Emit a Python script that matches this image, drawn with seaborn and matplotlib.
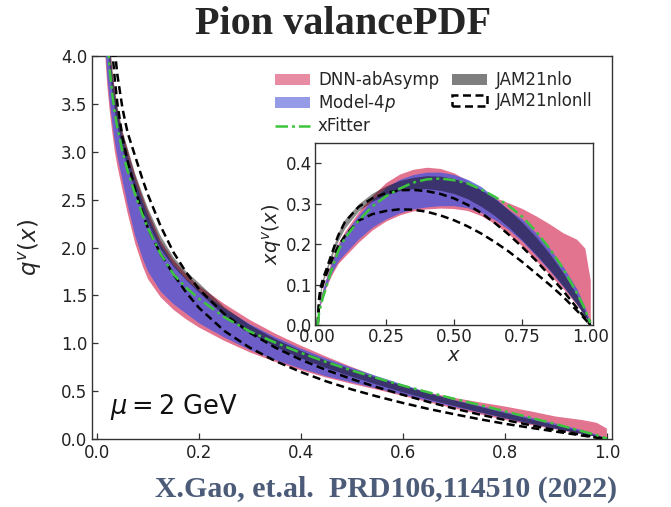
import numpy as np
import matplotlib
matplotlib.use("Agg")
import matplotlib.pyplot as plt
import seaborn as sns
from matplotlib.patches import Patch
from matplotlib.lines import Line2D

# ---------------- data: main panel q^v(x) ----------------
xm = [0.012, 0.015, 0.02, 0.025, 0.03, 0.035, 0.04, 0.05, 0.06, 0.075, 0.09, 0.1,
      0.125, 0.15, 0.175, 0.2, 0.25, 0.3, 0.35, 0.4, 0.45, 0.5, 0.55, 0.6, 0.65,
      0.7, 0.75, 0.8, 0.85, 0.9, 0.95, 0.98, 1.0]
dnn_lo_q = [4.6, 4.1, 3.7, 3.42, 3.2, 3.0, 2.85, 2.6, 2.36, 2.04, 1.8, 1.67, 1.48, 1.35,
            1.25, 1.165, 1.025, 0.905, 0.805, 0.718, 0.642, 0.576, 0.515, 0.45, 0.385,
            0.32, 0.26, 0.2, 0.147, 0.1, 0.053, 0.025, 0.0]
dnn_hi_q = [6.0, 5.3, 4.6, 4.15, 3.85, 3.63, 3.45, 3.2, 3.02, 2.75, 2.52, 2.38, 2.07, 1.87,
            1.72, 1.6, 1.41, 1.243, 1.1, 0.975, 0.86, 0.752, 0.649, 0.558, 0.485,
            0.431, 0.384, 0.34, 0.29, 0.235, 0.2, 0.17, 0.11]
model_lo_q = [4.7, 4.2, 3.8, 3.52, 3.3, 3.1, 2.95, 2.7, 2.45, 2.12, 1.88, 1.75, 1.54, 1.41,
              1.31, 1.21, 1.06, 0.93, 0.825, 0.735, 0.655, 0.59, 0.527, 0.463, 0.4,
              0.337, 0.276, 0.215, 0.159, 0.106, 0.055, 0.022, 0.0]
model_hi_q = [5.8, 5.1, 4.45, 4.05, 3.77, 3.57, 3.4, 3.14, 2.96, 2.69, 2.47, 2.33, 2.03, 1.82,
              1.67, 1.55, 1.36, 1.2, 1.063, 0.945, 0.84, 0.744, 0.655, 0.57, 0.485,
              0.407, 0.35, 0.285, 0.224, 0.161, 0.095, 0.046, 0.005]
xfit_q = [5.6, 4.9, 4.2, 3.85, 3.6, 3.4, 3.25, 3.0, 2.8, 2.55, 2.33, 2.2, 1.93, 1.72,
          1.58, 1.465, 1.272, 1.123, 1.006, 0.9, 0.804, 0.716, 0.636, 0.558, 0.488,
          0.421, 0.357, 0.29, 0.224, 0.156, 0.084, 0.041, 0.005]
jam_lo_q = [5.5, 4.85, 4.25, 3.88, 3.62, 3.43, 3.27, 3.02, 2.85, 2.59, 2.38, 2.25, 1.98, 1.8,
            1.66, 1.53, 1.288, 1.107, 0.963, 0.843, 0.74, 0.65, 0.567, 0.488, 0.415,
            0.346, 0.28, 0.219, 0.161, 0.108, 0.055, 0.022, 0.0]
jam_hi_q = [6.0, 5.3, 4.6, 4.15, 3.85, 3.65, 3.48, 3.22, 3.04, 2.77, 2.55, 2.41, 2.12, 1.9,
            1.75, 1.63, 1.376, 1.19, 1.043, 0.922, 0.818, 0.724, 0.638, 0.557, 0.48,
            0.407, 0.339, 0.273, 0.208, 0.144, 0.079, 0.036, 0.0]
nll_hi_q = [8.2, 7.0, 5.8, 5.0, 4.45, 4.05, 3.8, 3.45, 3.2, 2.95, 2.7, 2.55, 2.22, 1.95,
            1.74, 1.565, 1.304, 1.11, 0.954, 0.828, 0.72, 0.626, 0.54, 0.462, 0.388,
            0.32, 0.257, 0.2, 0.145, 0.094, 0.045, 0.018, 0.0]
nll_lo_q = [7.0, 6.0, 5.1, 4.5, 4.05, 3.75, 3.5, 3.15, 2.9, 2.6, 2.35, 2.2, 1.93, 1.72,
            1.53, 1.37, 1.128, 0.953, 0.814, 0.7, 0.602, 0.518, 0.444, 0.377, 0.315,
            0.26, 0.208, 0.16, 0.118, 0.078, 0.038, 0.015, 0.0]

# ---------------- data: inset x q^v(x) ----------------
xi = [0, 0.005, 0.01, 0.02, 0.03, 0.05, 0.075, 0.1, 0.15, 0.2, 0.25, 0.3, 0.35, 0.4,
      0.45, 0.5, 0.55, 0.6, 0.65, 0.7, 0.75, 0.8, 0.85, 0.9, 0.95, 0.98, 1.0]
dnn_lo_xq = [0, 0.035, 0.05, 0.072, 0.092, 0.122, 0.152, 0.17, 0.205, 0.235, 0.257, 0.272,
             0.282, 0.287, 0.289, 0.288, 0.283, 0.27, 0.25, 0.225, 0.195, 0.16, 0.125,
             0.09, 0.05, 0.025, 0.0]
dnn_hi_xq = [0, 0.045, 0.068, 0.093, 0.115, 0.158, 0.202, 0.232, 0.28, 0.32, 0.352, 0.373,
             0.385, 0.39, 0.387, 0.376, 0.357, 0.335, 0.315, 0.302, 0.288, 0.27, 0.25,
             0.228, 0.212, 0.19, 0.11]
model_lo_xq = [0, 0.037, 0.053, 0.075, 0.095, 0.128, 0.158, 0.177, 0.213, 0.242, 0.262,
               0.277, 0.287, 0.292, 0.295, 0.295, 0.29, 0.278, 0.26, 0.236, 0.207, 0.172,
               0.135, 0.095, 0.052, 0.022, 0.0]
model_hi_xq = [0, 0.043, 0.065, 0.09, 0.112, 0.152, 0.196, 0.226, 0.272, 0.31, 0.34, 0.36,
               0.372, 0.378, 0.378, 0.372, 0.36, 0.342, 0.315, 0.285, 0.262, 0.228, 0.19,
               0.145, 0.09, 0.045, 0.005]
xfit_xq = [0, 0.03, 0.045, 0.07, 0.09, 0.135, 0.183, 0.215, 0.258, 0.293, 0.318, 0.337,
           0.352, 0.36, 0.362, 0.358, 0.35, 0.335, 0.317, 0.295, 0.268, 0.232, 0.19,
           0.14, 0.08, 0.04, 0.005]
jam_lo_xq = [0, 0.055, 0.075, 0.108, 0.126, 0.165, 0.208, 0.24, 0.282, 0.306, 0.322, 0.332,
             0.337, 0.337, 0.333, 0.325, 0.312, 0.293, 0.27, 0.242, 0.21, 0.175, 0.137,
             0.097, 0.052, 0.022, 0.0]
jam_hi_xq = [0, 0.062, 0.09, 0.12, 0.138, 0.179, 0.229, 0.262, 0.3, 0.326, 0.344, 0.357,
             0.365, 0.369, 0.368, 0.362, 0.351, 0.334, 0.312, 0.285, 0.254, 0.218, 0.177,
             0.13, 0.075, 0.035, 0.0]
nll_hi_xq = [0, 0.065, 0.09, 0.116, 0.134, 0.173, 0.221, 0.255, 0.292, 0.313, 0.326, 0.333,
             0.334, 0.331, 0.324, 0.313, 0.297, 0.277, 0.252, 0.224, 0.193, 0.16, 0.123,
             0.085, 0.043, 0.018, 0.0]
nll_lo_xq = [0, 0.055, 0.078, 0.102, 0.122, 0.158, 0.195, 0.22, 0.258, 0.274, 0.282, 0.286,
             0.285, 0.28, 0.271, 0.259, 0.244, 0.226, 0.205, 0.182, 0.156, 0.128, 0.1,
             0.07, 0.036, 0.015, 0.0]

labels = ["DNN-abAsymp", "Model-4$p$", "xFitter", "JAM21nlo", "JAM21nlonll"]
main_xticks = [0.0, 0.2, 0.4, 0.6, 0.8, 1.0]
main_yticks = [0.0, 0.5, 1.0, 1.5, 2.0, 2.5, 3.0, 3.5, 4.0]
inset_xticks = [0.0, 0.25, 0.5, 0.75, 1.0]
inset_yticks = [0.0, 0.1, 0.2, 0.3, 0.4]

# ---------------- style ----------------
sns.set_theme(style="ticks")
plt.rcParams["font.family"] = ["DejaVu Sans"]
plt.rcParams["mathtext.fontset"] = "dejavusans"

PINK = "#d83f66"
BLUE = "#5058d8"
GREEN = "#3cc43c"
SPINE = "#333333"
DASH = (0, (3.2, 1.8))
DASHDOT = (0, (5, 1.6, 1.2, 1.6))

fig = plt.figure(figsize=(6.71, 5.07), dpi=100)
ax = fig.add_axes([0.137, 0.134, 0.775, 0.7555])
axi = fig.add_axes([0.4694, 0.359, 0.4144, 0.359])


def draw(a, x, dlo, dhi, mlo, mhi, xf, jlo, jhi, nlo, nhi, lw):
    a.fill_between(x, dlo, dhi, color=PINK, alpha=0.72, lw=0, zorder=2)
    a.fill_between(x, mlo, mhi, color=BLUE, alpha=0.8, lw=0, zorder=3)
    a.fill_between(x, jlo, jhi, color="black", alpha=0.45, lw=0, zorder=4)
    sns.lineplot(x=x, y=nhi, ax=a, color="black", lw=lw, zorder=5,
                 linestyle=DASH, sort=False)
    sns.lineplot(x=x, y=nlo, ax=a, color="black", lw=lw, zorder=5,
                 linestyle=DASH, sort=False)
    sns.lineplot(x=x, y=xf, ax=a, color=GREEN, lw=lw, zorder=6,
                 linestyle=DASHDOT, sort=False)


draw(ax, xm, dnn_lo_q, dnn_hi_q, model_lo_q, model_hi_q, xfit_q,
     jam_lo_q, jam_hi_q, nll_lo_q, nll_hi_q, 1.8)
draw(axi, xi, dnn_lo_xq, dnn_hi_xq, model_lo_xq, model_hi_xq, xfit_xq,
     jam_lo_xq, jam_hi_xq, nll_lo_xq, nll_hi_xq, 1.8)

# main axes
ax.set_xlim(-0.01, 1.01)
ax.set_ylim(0, 4.0)
ax.set_xticks(main_xticks)
ax.set_xticklabels([f"{v:.1f}" for v in main_xticks])
ax.set_yticks(main_yticks)
ax.set_yticklabels([f"{v:.1f}" for v in main_yticks])
ax.set_ylabel("$q^v(x)$", fontsize=16.5, labelpad=12)
ax.set_xlabel("")
ax.tick_params(direction="in", labelsize=12, length=4, width=0.9, color=SPINE,
               labelcolor="#222222")
for s in ax.spines.values():
    s.set_visible(True)
    s.set_color(SPINE)
    s.set_linewidth(1.0)
ax.text(0.025, 0.33, r"$\mu = 2$ GeV", fontsize=18.5, va="center", ha="left",
        color="#111111")

# inset axes
axi.set_xlim(-0.01, 1.01)
axi.set_ylim(0, 0.45)
axi.set_xticks(inset_xticks)
axi.set_xticklabels([f"{v:.2f}" for v in inset_xticks])
axi.set_yticks(inset_yticks)
axi.set_yticklabels([f"{v:.1f}" for v in inset_yticks])
axi.set_xlabel("$x$", fontsize=14, labelpad=0)
axi.set_ylabel("$xq^v(x)$", fontsize=14, labelpad=1)
axi.tick_params(direction="in", labelsize=12, length=4, width=0.9, color=SPINE,
                labelcolor="#222222", pad=2)
for s in axi.spines.values():
    s.set_visible(True)
    s.set_color(SPINE)
    s.set_linewidth(1.0)

# legend
handles = [
    Patch(facecolor=PINK, alpha=0.6, edgecolor="none"),
    Patch(facecolor=BLUE, alpha=0.6, edgecolor="none"),
    Line2D([0], [0], color=GREEN, lw=1.8, linestyle=DASHDOT),
    Patch(facecolor="black", alpha=0.5, edgecolor="none"),
    Patch(facecolor="none", edgecolor="black", linestyle=DASH, lw=1.8),
]
ax.legend(handles, labels, ncol=2, loc="upper left", bbox_to_anchor=(0.332, 0.986),
          frameon=False, fontsize=12, handlelength=2.1, handletextpad=0.5,
          columnspacing=0.8, labelspacing=0.18, borderaxespad=0.2)

fig.text(0.511, 0.952, "Pion valancePDF", ha="center", va="center",
         fontsize=29, fontweight="bold", family=["Liberation Serif", "DejaVu Serif"])
fig.text(0.576, 0.034, "X.Gao, et.al.  PRD106,114510 (2022)", ha="center", va="center",
         fontsize=21.5, fontweight="bold", color="#4b5b78",
         family=["Liberation Serif", "DejaVu Serif"])

fig.savefig("out.png", dpi=100)
